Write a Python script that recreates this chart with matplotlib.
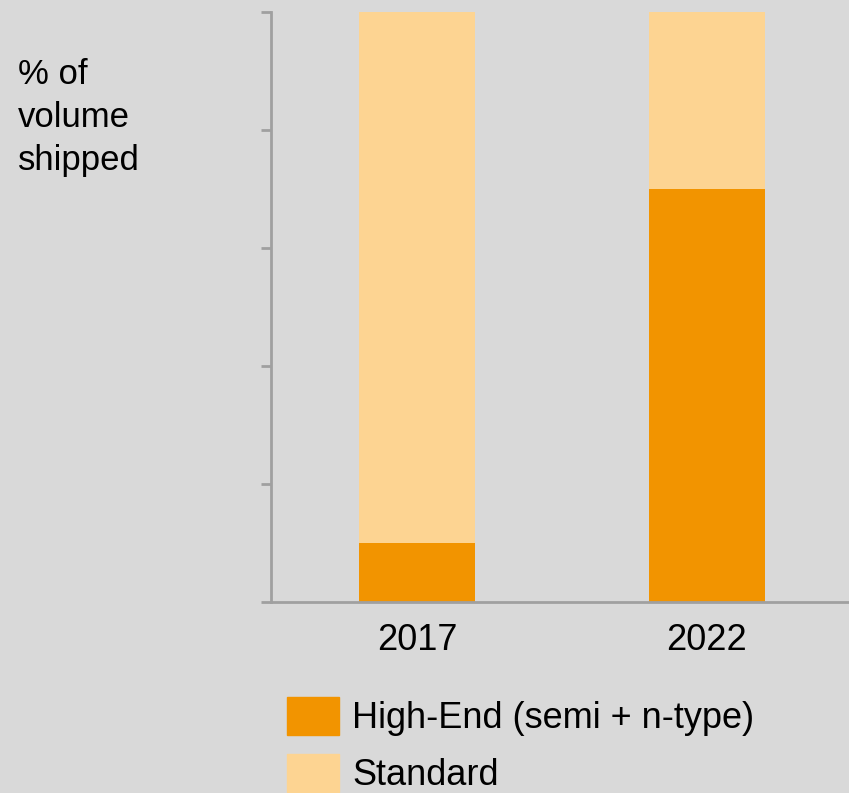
import matplotlib
matplotlib.use("Agg")
import matplotlib.pyplot as plt
from matplotlib.patches import Patch

plt.rcParams['font.family'] = ['Liberation Sans', 'DejaVu Sans']

# --- Data ---
years = ["2017", "2022"]
high_end = [10, 70]
standard = [90, 30]
series_labels = ["High-End (semi + n-type)", "Standard"]

BG = "#d9d9d9"
DARK = "#f29400"
LIGHT = "#fdd492"
SPINE = "#a0a0a0"

fig = plt.figure(figsize=(8.49, 7.93), dpi=100, facecolor=BG)
ax = fig.add_axes([271 / 849, 1 - 602 / 793, 1 - 271 / 849, (602 - 12) / 793])
ax.set_facecolor(BG)

x = range(len(years))
ax.bar(x, high_end, width=0.4, color=DARK)
ax.bar(x, standard, width=0.4, bottom=high_end, color=LIGHT)

ax.set_xlim(-0.503, 1.49)
ax.set_ylim(0, 100)
ax.set_yticks(range(0, 101, 20))
ax.set_yticklabels([])
ax.set_xticks(list(x))
ax.set_xticklabels(years, fontsize=26)
ax.tick_params(axis='x', length=0, pad=15)
ax.tick_params(axis='y', length=7.5, width=2, color=SPINE, direction='out')

for side in ['top', 'right']:
    ax.spines[side].set_visible(False)
for side in ['left', 'bottom']:
    ax.spines[side].set_color(SPINE)
    ax.spines[side].set_linewidth(2)

fig.text(18 / 849, 1 - 58 / 793, "% of\nvolume\nshipped", fontsize=25,
         va='top', ha='left', linespacing=1.38)

handles = [Patch(color=DARK), Patch(color=LIGHT)]
fig.legend(handles, series_labels, loc='upper left',
           bbox_to_anchor=(269 / 849, 1 - 679 / 793), frameon=False,
           fontsize=26, handlelength=1.45, handleheight=1.22,
           handletextpad=0.35, labelspacing=0.5, borderpad=0)

fig.savefig("out.png", dpi=100, facecolor=BG)
